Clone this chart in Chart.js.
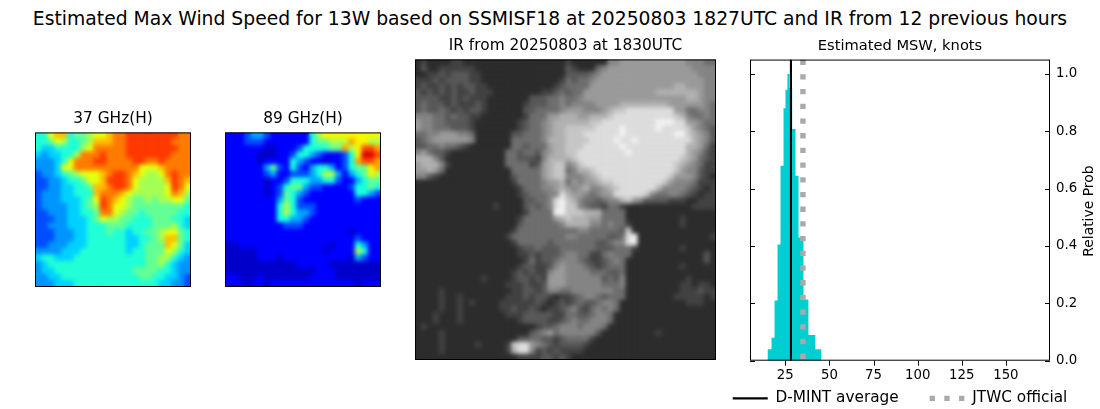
<!DOCTYPE html>
<html>
<head>
<meta charset="utf-8">
<script src="https://cdn.jsdelivr.net/npm/chart.js@4/dist/chart.umd.js"></script>
<style>
html,body{margin:0;padding:0;width:1100px;height:409px;overflow:hidden;background:#fff;font-family:"DejaVu Sans";}
canvas{position:absolute;}
#sup{position:absolute;left:0;top:8px;width:1100px;text-align:center;font-size:18.75px;line-height:22px;color:#000;white-space:nowrap;}
</style>
</head>
<body>
<div id="sup">Estimated Max Wind Speed for 13W based on SSMISF18 at 20250803 1827UTC and IR from 12 previous hours</div>
<canvas id="c37" style="left:34px;top:109px" width="158" height="179"></canvas>
<canvas id="c89" style="left:224px;top:109px" width="158" height="179"></canvas>
<canvas id="cir" style="left:414px;top:36px" width="303" height="325"></canvas>
<canvas id="chist" style="left:700px;top:37px" width="400" height="379"></canvas>
<script>
// histogram, knots and relative prob
const histEdges = [14.9,17.2,18.9,20.6,22.3,24,25.1,26.2,27.4,28.9,30.8,32.5,35.3,38.1,42,45.5];
const histHeights = [0.04,0.08,0.21,0.405,0.68,0.88,0.945,1.0,0.95,0.808,0.645,0.43,0.213,0.09,0.04,0];
const dmintAverage = 28.2;
const jtwcOfficial = 35;
const xTicks = [25,50,75,100,125,150];
const yTicks = [0,0.2,0.4,0.6,0.8,1.0];
const legendNames = ['D-MINT average','JTWC official'];

// 37 GHz, 0 azure to 9 red-orange
const rows37 = [
 '336773445667889999999988',
 '334653345777889999999888',
 '322333356888889999999988',
 '212233588898889999999888',
 '111236888998888998898888',
 '111266888888888866678888',
 '011234566678998765568988',
 '001123346679998655557987',
 '001122334778998655556986',
 '011122333788876555556875',
 '011122234698765445455664',
 '011112234598665444444443',
 '001112233488654434444433',
 '000112223465544333444332',
 '001112223334443333444532',
 '000111223334332334456643',
 '000111223333332233457743',
 '001112223333332234447642',
 '111122233333332334446532',
 '233222333333333334455321',
 '123333333333333334453211',
 '122333333333333444433211',
 '112233333333333344332210',
 '111222333333333333322110'
];
const levels37 = [0.2,0.27,0.33,0.39,0.47,0.55,0.63,0.71,0.78,0.85];
// 89 GHz, 0 pure blue to 9 dark red, "." is the darker blue
const rows89 = [
 '000122100000035666666666',
 '000111000000034455576655',
 '000000..0001333344756887',
 '00000...0013321000136998',
 '00000.000032100.00137887',
 '000000241031023320134467',
 '000000120011123552023465',
 '000000.00133322331002344',
 '000000.01344211000013343',
 '000000.01432100000003321',
 '000000002431000000001000',
 '000000003531110000000000',
 '000000003532210000000000',
 '000000003322100000000000',
 '000000000111000000000000',
 '0000000000000000000.0000',
 '000000000000000000001000',
 '..00000000000000.0003200',
 '.....0000000000.00005300',
 '.....000.0000000000.2100',
 '...........00000........',
 '..............000.......',
 '00...0.......0000.......',
 '000.00.0000000000000.000'
];
// IR by quadrant, 0 dark to 9 white
const irTopLeft = [
 '0100001100000000000000000','0200111111000000000000000','0011212221100000000000000',
 '1112122221100000000000001','1211212122110000000000012','2121212112111000000001123',
 '2222112121110000000222334','2322212111210000001222334','2322321212210000002233334',
 '4443323221100000001333556','5443322221000000012334566','5443332221000000012334566',
 '3344555443000000223334566','2345555554000000333334666','2233433210000000332333566',
 '4532210000000003323324566','6664200000000003322214666','5666410000000003333125677',
 '5565300000000000333335677','4421000000000000233335677','0000000000000000133334556',
 '0000000000000000013334456','0000000000000000012333448','0000000000000000002233489',
 '0000000000000100002323489'
];
const irTopRight = [
 '1000000445555555555544433','2100034555555555555554444','2222345555555555555555444',
 '3233455555555555555555544','3333555555555555556655544','2335555555555556666666544',
 '3345555555555555555566544','3444455556666666655555543','5554445677888888885533443',
 '6655666788888888887643343','6666778888888889998855433','7777788889888889888875432',
 '7778888889888888889976542','7777888898898888888886542','7778888889888888888866531',
 '7788888888988888888865421','6788888888888888888765321','4578888888888888887654311',
 '3466788888888888887544211','4445678888888888875554210','3545567788888888754443111',
 '5456445678888886444432101','6554345588888743344321011','7643323446754222211100111',
 '7743221331000000000001111'
];
const irBottomLeft = [
 '0000000000000000001333399','0000000000000000013333356','0000000000000000023333334',
 '0000000000000000133333333','0000000000000001333333333','0000000000000000133333233',
 '0000000000000000012232223','0000000000000000011212223','0000000000000000001312234',
 '0000000000000000012211245','0000000000000000121211455','0000000000010000122121555',
 '0000000000000001112112555','0000100000000000112212443','0000100100000001112122101',
 '0000100101000011111121012','0000100100000011211210112','0001000100000001112222211',
 '0001000100000000012222112','0100000000000000000012234','0000100000000000000234534',
 '0000100000000000022332212','0000100000100001788543212','0000100000000001688412121',
 '0000000000000000011112212'
];
const irBottomRight = [
 '7776663333000000000000000','7666553333000000000100000','6666443433100000000100000',
 '3344333332700000000000000','4433333223890000000000001','3333322344890000000000000',
 '3333322233310000000100000','4433113433300000000000020','4432112343000000000000020',
 '4443212333000000000100000','4444333223000000000000000','4444442324000000000010000',
 '4444443334000000000110110','3444444433000000000111211','1234432333000000001111101',
 '1232234430000000000011100','3421343430000000000000000','3322344300000000000000000',
 '3433444300000000000000000','4434443000000000000000000','4444420000000001000000000',
 '3333100000000000000000000','2221000000000000000000000','1110000000000000000000000',
 '1000000000000000000000000'
];
const rowsIr = irTopLeft.map((r,i)=>r+irTopRight[i]).concat(irBottomLeft.map((r,i)=>r+irBottomRight[i]));

function jet(t){
  const c = (a,b,x)=>Math.max(0,Math.min(1,a+b*x));
  const r = t<0.89 ? c(0,1,(t-0.35)/0.31) : 1-(t-0.89)/0.11*0.5;
  const g = t<0.64 ? c(0,1,(t-0.125)/0.25) : c(1,-1,(t-0.64)/0.27);
  const b = t<0.11 ? 0.5+t/0.11*0.5 : c(1,-1,(t-0.34)/0.31);
  return `rgb(${Math.round(r*255)},${Math.round(g*255)},${Math.round(b*255)})`;
}
const color37 = d => jet(levels37[d]);
const color89 = d => jet(d<0 ? 0.065 : 0.11+d*0.09);
const colorIr = d => { const g = 44+d*22; return `rgb(${g},${g},${g})`; };

function cellsOf(rows){
  const out = [];
  rows.forEach((row,y)=>{
    for (let x = 0; x < row.length; x++){
      out.push({x:x,y:y,v:row[x]==='.' ? -1 : Number(row[x])});
    }
  });
  return out;
}

// smooths the finished cells the way the image interpolation does
const softCells = {
  id:'softCells',
  afterDatasetsDraw(chart){
    const px = chart.options.plugins.softCells.px, a = chart.chartArea, ctx = chart.ctx;
    const w = a.right-a.left, h = a.bottom-a.top;
    ctx.save();
    ctx.beginPath();
    ctx.rect(a.left,a.top,w,h);
    ctx.clip();
    ctx.filter = `blur(${px}px)`;
    ctx.drawImage(chart.canvas,a.left,a.top,w,h,a.left,a.top,w,h);
    ctx.restore();
  }
};
const frame = {
  id:'frame',
  afterDraw(chart){
    const a = chart.chartArea, ctx = chart.ctx;
    ctx.save();
    ctx.strokeStyle = '#000';
    ctx.lineWidth = 1;
    ctx.strokeRect(a.left+0.5,a.top+0.5,a.right-a.left-1,a.bottom-a.top-1);
    ctx.restore();
  }
};

function heatmap(id,rows,colorOf,title,blurPx){
  const cells = cellsOf(rows);
  const n = rows.length;
  const canvas = document.getElementById(id);
  const side = canvas.width-2;
  const radius = side/n/2*Math.SQRT2+0.3;
  new Chart(canvas,{
    type:'scatter',
    data:{datasets:[{data:cells,pointStyle:'rect',pointRadius:radius,pointHoverRadius:radius,
      pointBackgroundColor:cells.map(c=>colorOf(c.v)),pointBorderWidth:0}]},
    options:{
      responsive:false,
      animation:false,
      events:[],
      layout:{padding:1,autoPadding:false},
      plugins:{
        legend:{display:false},
        tooltip:{enabled:false},
        softCells:{px:blurPx},
        title:{display:true,text:title,color:'#000',font:{family:'DejaVu Sans',size:15.35,weight:'normal'},padding:{top:0,bottom:4}}
      },
      scales:{
        x:{type:'linear',display:false,min:-0.5,max:n-0.5},
        y:{type:'linear',display:false,min:-0.5,max:n-0.5,reverse:true}
      }
    },
    plugins:[softCells,frame]
  });
}
heatmap('c37',rows37,color37,'37 GHz(H)',2);
heatmap('c89',rows89,color89,'89 GHz(H)',2);
heatmap('cir',rowsIr,colorIr,'IR from 20250803 at 1830UTC',2);

const histTicks = {
  id:'histTicks',
  afterDraw(chart){
    const a = chart.chartArea, ctx = chart.ctx;
    ctx.save();
    ctx.strokeStyle = '#000';
    ctx.lineWidth = 1;
    ctx.beginPath();
    yTicks.forEach(v=>{
      const y = Math.round(chart.scales.y.getPixelForValue(v))+0.5;
      ctx.moveTo(a.left,y); ctx.lineTo(a.left+5,y);
      ctx.moveTo(a.right-5,y); ctx.lineTo(a.right,y);
    });
    xTicks.forEach(v=>{
      const x = Math.round(chart.scales.x.getPixelForValue(v))+0.5;
      ctx.moveTo(x,a.bottom); ctx.lineTo(x,a.bottom+5);
    });
    ctx.stroke();
    ctx.translate(389,(a.top+a.bottom)/2+1);
    ctx.rotate(-Math.PI/2);
    ctx.fillStyle = '#000';
    ctx.font = '13.9px "DejaVu Sans"';
    ctx.textAlign = 'center';
    ctx.textBaseline = 'middle';
    ctx.fillText('Relative Prob',0,0);
    ctx.restore();
  }
};

new Chart(document.getElementById('chist'),{
  type:'line',
  data:{
    datasets:[
      {label:legendNames[0],data:[{x:dmintAverage,y:1.05},{x:dmintAverage,y:0}],borderColor:'#000',borderWidth:2.1,pointRadius:0,pointStyle:'line'},
      {label:legendNames[1],data:[{x:jtwcOfficial,y:1.05},{x:jtwcOfficial,y:0}],borderColor:'#aaaaaa',borderWidth:5.4,borderDash:[5.3,9.4],pointRadius:0,pointStyle:'line'},
      {label:'hist',data:histEdges.map((e,i)=>({x:e,y:histHeights[i]})),stepped:true,fill:'origin',
        backgroundColor:'#00ced1',borderColor:'rgba(0,0,0,0)',borderWidth:0,pointRadius:0}
    ]
  },
  options:{
    responsive:false,
    animation:false,
    events:[],
    layout:{padding:0,autoPadding:false},
    plugins:{
      tooltip:{enabled:false},
      title:{display:true,text:'Estimated MSW, knots',color:'#000',font:{family:'DejaVu Sans',size:14.65,weight:'normal'},padding:{top:0,bottom:5}},
      legend:{
        position:'bottom',
        labels:{
          color:'#000',
          font:{family:'DejaVu Sans',size:15.3},
          usePointStyle:true,
          pointStyle:'line',
          pointStyleWidth:35,
          padding:10,
          filter:item=>item.text.trim()!=='hist',
          // gap between the two entries is wider than the vertical padding
          generateLabels(chart){
            const items = Chart.defaults.plugins.legend.labels.generateLabels(chart);
            items[0].text = items[0].text+'\u00a0\u00a0\u00a0\u00a0\u200a';
            items[0].lineWidth = 2.1;
            items[1].lineWidth = 5.4;
            items[1].lineDash = [5.3,9.4];
            return items;
          }
        }
      }
    },
    scales:{
      x:{
        type:'linear',min:5,max:175,
        grid:{display:false,tickLength:0,drawTicks:false},
        border:{display:false},
        afterBuildTicks:s=>{s.ticks = xTicks.map(v=>({value:v}));},
        afterFit:s=>{s.height = 20;},
        ticks:{color:'#000',font:{family:'DejaVu Sans',size:13.3},padding:7,maxRotation:0,autoSkip:false}
      },
      y:{
        type:'linear',position:'right',min:0,max:1.05,
        grid:{display:false,tickLength:0,drawTicks:false},
        border:{display:false},
        afterBuildTicks:s=>{s.ticks = yTicks.map(v=>({value:v}));},
        afterFit:s=>{s.width = 50;},
        ticks:{color:'#000',font:{family:'DejaVu Sans',size:13.3},padding:6,callback:v=>v.toFixed(1)}
      },
      // blank left axis, only keeps the plot clear of the legend's overhang
      gutter:{
        type:'linear',position:'left',axis:'y',display:true,
        grid:{display:false},
        border:{display:false},
        ticks:{display:false},
        afterFit:s=>{s.width = 50;}
      }
    }
  },
  plugins:[frame,histTicks]
});
</script>
</body>
</html>
